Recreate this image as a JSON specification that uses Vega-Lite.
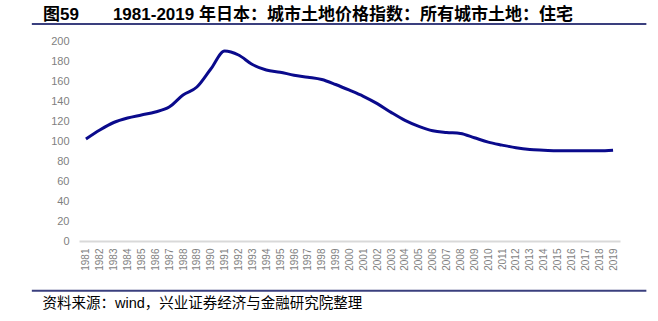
{
  "$schema": "https://vega.github.io/schema/vega-lite/v6.json",
  "autosize": {"type": "none"},
  "width": 541,
  "height": 200,
  "padding": {"left": 79, "top": 41, "right": 38, "bottom": 80},
  "background": "white",
  "title": {
    "text": "图59\u3000\u30001981-2019 年日本：城市土地价格指数：所有城市土地：住宅",
    "anchor": "start",
    "frame": "group",
    "dx": -36,
    "offset": -1,
    "font": "Liberation Sans, Noto Sans CJK SC",
    "fontSize": 17,
    "fontWeight": "bold",
    "color": "#000000"
  },
  "config": {
    "view": {"stroke": null},
    "font": "Liberation Sans",
    "axisX": {
      "labelAngle": -90,
      "labelFontSize": 10,
      "labelColor": "#7f7f7f",
      "labelPadding": 7,
      "labelOverlap": false,
      "labelFlush": false,
      "ticks": false,
      "grid": false,
      "domainColor": "#d9d9d9",
      "domainWidth": 2,
      "titleFont": "Liberation Sans, Noto Sans CJK SC",
      "titleFontSize": 14.5,
      "titleFontWeight": "normal",
      "titleColor": "#000000",
      "titleAnchor": "start",
      "titleAlign": "left",
      "titleBaseline": "middle",
      "titleX": -37,
      "titleY": 62
    },
    "axisY": {
      "labelFontSize": 11,
      "labelColor": "#7f7f7f",
      "labelPadding": 10,
      "labelOverlap": false,
      "ticks": false,
      "domain": false,
      "grid": false
    }
  },
  "data": {
    "values": [
      {"year": 1981, "value": 102},
      {"year": 1982, "value": 111},
      {"year": 1983, "value": 118.5},
      {"year": 1984, "value": 123},
      {"year": 1985, "value": 126},
      {"year": 1986, "value": 129},
      {"year": 1987, "value": 134},
      {"year": 1988, "value": 146},
      {"year": 1989, "value": 154},
      {"year": 1990, "value": 172},
      {"year": 1991, "value": 190},
      {"year": 1992, "value": 186},
      {"year": 1993, "value": 176.5},
      {"year": 1994, "value": 171},
      {"year": 1995, "value": 168.8},
      {"year": 1996, "value": 165.8},
      {"year": 1997, "value": 163.8},
      {"year": 1998, "value": 161.5},
      {"year": 1999, "value": 156.5},
      {"year": 2000, "value": 150.8},
      {"year": 2001, "value": 144.7},
      {"year": 2002, "value": 137.4},
      {"year": 2003, "value": 128.6},
      {"year": 2004, "value": 120.6},
      {"year": 2005, "value": 114.6},
      {"year": 2006, "value": 110.2},
      {"year": 2007, "value": 108.5},
      {"year": 2008, "value": 107.5},
      {"year": 2009, "value": 103.2},
      {"year": 2010, "value": 98.9},
      {"year": 2011, "value": 95.9},
      {"year": 2012, "value": 93.2},
      {"year": 2013, "value": 91.5},
      {"year": 2014, "value": 90.8},
      {"year": 2015, "value": 90.2},
      {"year": 2016, "value": 90.2},
      {"year": 2017, "value": 90.2},
      {"year": 2018, "value": 90.2},
      {"year": 2019, "value": 90.8}
    ]
  },
  "layer": [
    {
      "mark": {"type": "line", "color": "#0a0a8c", "strokeWidth": 3, "interpolate": "monotone"},
      "encoding": {
        "x": {
          "field": "year",
          "type": "quantitative",
          "scale": {"domain": [1980.5, 2019.5], "nice": false, "zero": false},
          "axis": {
            "values": [1981,1982,1983,1984,1985,1986,1987,1988,1989,1990,1991,1992,1993,1994,1995,1996,1997,1998,1999,2000,2001,2002,2003,2004,2005,2006,2007,2008,2009,2010,2011,2012,2013,2014,2015,2016,2017,2018,2019],
            "format": "d",
            "labelOverlap": false,
            "title": "资料来源：wind，兴业证券经济与金融研究院整理"
          }
        },
        "y": {
          "field": "value",
          "type": "quantitative",
          "scale": {"domain": [0, 200], "nice": false},
          "axis": {
            "values": [0,20,40,60,80,100,120,140,160,180,200],
            "labelOverlap": false,
            "title": null
          }
        }
      }
    },
    {
      "data": {"values": [{}]},
      "mark": {"type": "rule", "color": "#3a3f7e", "strokeWidth": 2},
      "encoding": {
        "x": {"datum": 1977.1, "type": "quantitative", "axis": {"values": [1981,1982,1983,1984,1985,1986,1987,1988,1989,1990,1991,1992,1993,1994,1995,1996,1997,1998,1999,2000,2001,2002,2003,2004,2005,2006,2007,2008,2009,2010,2011,2012,2013,2014,2015,2016,2017,2018,2019], "format": "d", "labelOverlap": false, "title": "资料来源：wind，兴业证券经济与金融研究院整理"}},
        "x2": {"datum": 2021.4},
        "y": {"datum": 217, "type": "quantitative", "axis": {"values": [0,20,40,60,80,100,120,140,160,180,200], "labelOverlap": false, "title": null}}
      }
    },
    {
      "data": {"values": [{}]},
      "mark": {"type": "rule", "color": "#3a3f7e", "strokeWidth": 2},
      "encoding": {
        "x": {"datum": 1977.1, "type": "quantitative", "axis": {"values": [1981,1982,1983,1984,1985,1986,1987,1988,1989,1990,1991,1992,1993,1994,1995,1996,1997,1998,1999,2000,2001,2002,2003,2004,2005,2006,2007,2008,2009,2010,2011,2012,2013,2014,2015,2016,2017,2018,2019], "format": "d", "labelOverlap": false, "title": "资料来源：wind，兴业证券经济与金融研究院整理"}},
        "x2": {"datum": 2021.4},
        "y": {"datum": -49.7, "type": "quantitative", "axis": {"values": [0,20,40,60,80,100,120,140,160,180,200], "labelOverlap": false, "title": null}}
      }
    }
  ]
}
